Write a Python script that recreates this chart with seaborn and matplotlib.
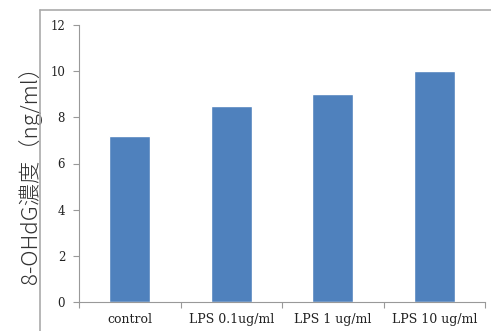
import matplotlib
matplotlib.use("Agg")
import matplotlib.pyplot as plt
import seaborn as sns
import pandas as pd
from matplotlib.lines import Line2D

# Daten
groups = ["control", "LPS 0.1ug/ml", "LPS 1 ug/ml", "LPS 10 ug/ml"]
values = [7.2, 8.5, 9.0, 10.0]
y_ticks = [0, 2, 4, 6, 8, 10, 12]

df = pd.DataFrame({"group": groups, "value": values})

sns.set_style("white")
plt.rcParams["font.family"] = ["DejaVu Serif"]

fig = plt.figure(figsize=(4.91, 3.31), dpi=100)
ax = fig.add_axes([79 / 491, 1 - 302 / 331, (485 - 79) / 491, (302 - 25) / 331])

sns.barplot(data=df, x="group", y="value", color="#4F81BD", saturation=1,
            width=0.4, ax=ax)

ax.set_xlim(-0.5, len(groups) - 0.5)
ax.set_ylim(0, 12)
ax.set_yticks(y_ticks)
ax.set_yticklabels([str(t) for t in y_ticks], fontsize=8.5, color="#222222")

# Ticks an den Kategoriegrenzen, Beschriftung in der Mitte
ax.set_xticks([i - 0.5 for i in range(len(groups) + 1)])
ax.set_xticklabels([])
ax.set_xticks(range(len(groups)), minor=True)
ax.set_xticklabels(groups, minor=True, fontsize=9, color="#222222")
ax.tick_params(axis="x", which="major", direction="out", length=4, color="#999999", width=0.8, bottom=True)
ax.tick_params(axis="x", which="minor", length=0, pad=8)
ax.tick_params(axis="y", direction="out", length=4, color="#999999", width=0.8, left=True, pad=6)

for s in ["top", "right"]:
    ax.spines[s].set_visible(False)
for s in ["left", "bottom"]:
    ax.spines[s].set_color("#999999")
    ax.spines[s].set_linewidth(0.8)

ax.set_xlabel("")
ax.set_ylabel("8-OHdG濃度（ng/ml）", fontsize=16,
              family=["Noto Sans CJK JP", "DejaVu Sans"], fontweight="light",
              color="#333333")
ax.yaxis.set_label_coords(-0.09, 0.48)

# Rahmen um den Plotbereich
fig.add_artist(Line2D([40 / 491, 40 / 491], [0, 1 - 10 / 331], color="#AAAAAA", lw=1.2))
fig.add_artist(Line2D([40 / 491, 1], [1 - 10 / 331, 1 - 10 / 331], color="#AAAAAA", lw=1.2))

fig.savefig("out.png", dpi=100)
